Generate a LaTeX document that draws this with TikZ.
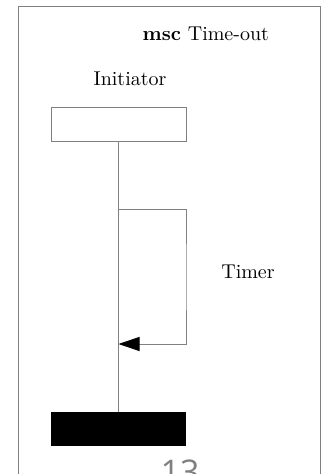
\documentclass[tikz,border=0pt]{standalone}
\usepackage{fontspec}
\newfontfamily\pagefont{Open Sans}
\usepackage{tikz}
\usetikzlibrary{arrows.meta, positioning}
\definecolor{framegray}{rgb}{0.5, 0.5, 0.5}

\tikzset{
	instbox/.style={draw=framegray, line width=0.5pt, minimum width=67.5pt, minimum height=17pt, inner sep=0pt},
	endbox/.style={fill=black, minimum width=67.5pt, minimum height=17pt, inner sep=0pt},
	msgline/.style={framegray, line width=0.5pt, line cap=round}
}

\begin{document}
\begin{tikzpicture}[x=0.5pt, y=-0.5pt]
		\useasboundingbox (0,0) rectangle (326,474);
		\clip (0,0) rectangle (326,474);
		% frame
		\draw [framegray, line width=0.5pt] (18,490)--(18,7)--(320,7)--(320,490);
		\node [anchor=base east] (title) at (276,41) {\textbf{msc} Time-out};
		\node (initlabel) at (130,79) {Initiator};
		
		\node [instbox] (init) at (118.5,125) {};
		\node [endbox] (stop) at (118.5,429) {};
		\draw [msgline] (init.south)--(stop.north);
		
		% timer loop
		\coordinate (tstart) at (init.south |- 0,210);
		\coordinate (tend) at (init.south |- 0,344);
		\draw [msgline, -{Triangle[length=10.5pt, width=7pt, color=black]}]
			(tstart)-|(186,277)|-(tend);
		\node (timer) at (248,272) {Timer};
		
		\node [framegray, font=\pagefont\fontsize{17}{20}\selectfont, anchor=north] (page) at (180,453) {13};
	\end{tikzpicture}
\end{document}
